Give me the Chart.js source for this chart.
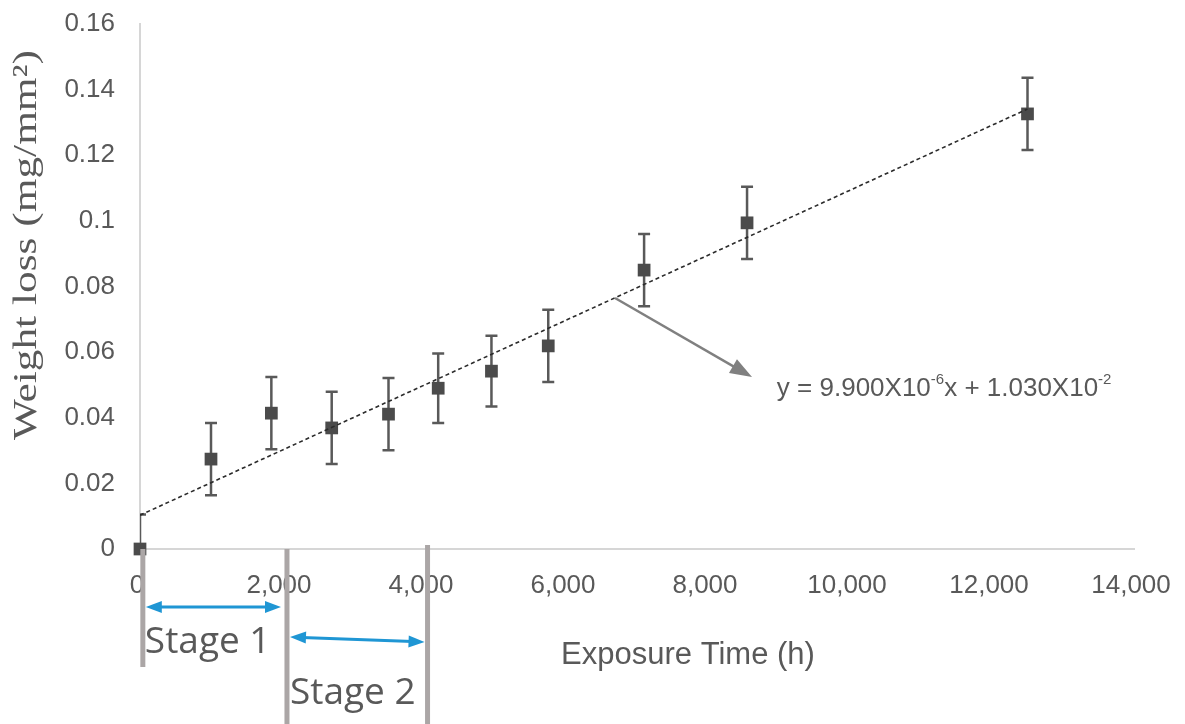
<!DOCTYPE html>
<html>
<head>
<meta charset="utf-8">
<script src="https://cdn.jsdelivr.net/npm/chart.js@4.4.1/dist/chart.umd.min.js"></script>
<style>
  html, body { margin: 0; padding: 0; background: #fff; }
  #wrap { width: 1185px; height: 724px; position: relative; }
</style>
</head>
<body>
<div id="wrap"><canvas id="chart"></canvas></div>
<script>
// exposure time (h) and weight loss (mg/mm2)
const hours = [0, 1000, 1850, 2700, 3500, 4200, 4950, 5750, 7100, 8550, 12500];
const weightLoss = [0, 0.0274, 0.0414, 0.0369, 0.0411, 0.049, 0.0542, 0.0619, 0.085, 0.0994, 0.1326];
const errorSize = [0.0105, 0.011, 0.011, 0.011, 0.011, 0.0106, 0.0108, 0.011, 0.011, 0.011, 0.011];

// linear fit drawn across the data range
const trendX = [0, 12500];
const trendY = [0.0103, 0.1341];

const xTicks = [0, 2000, 4000, 6000, 8000, 10000, 12000, 14000];
const yTicks = [0, 0.02, 0.04, 0.06, 0.08, 0.1, 0.12, 0.14, 0.16];

const stageBounds = [40, 2070, 4050];
const stageLabels = ['Stage 1', 'Stage 2'];

const xTitle = 'Exposure Time (h)';
const yTitle = 'Weight loss (mg/mm²)';

const grey = '#595959';
const blue = '#1f96d4';
const barGrey = '#aba6a6';
const sans = '"Liberation Sans", Arial, sans-serif';

function arrowHead(ctx, x1, y1, x2, y2, len, half) {
    let a = Math.atan2(y2 - y1, x2 - x1);
    ctx.beginPath();
    ctx.moveTo(x2, y2);
    ctx.lineTo(x2 - len * Math.cos(a) + half * Math.sin(a), y2 - len * Math.sin(a) - half * Math.cos(a));
    ctx.lineTo(x2 - len * Math.cos(a) - half * Math.sin(a), y2 - len * Math.sin(a) + half * Math.cos(a));
    ctx.closePath(); ctx.fill();
}

function doubleArrow(ctx, x1, y1, x2, y2) {
    let a = Math.atan2(y2 - y1, x2 - x1), l = 12;
    ctx.strokeStyle = blue; ctx.fillStyle = blue; ctx.lineWidth = 3;
    ctx.beginPath();
    ctx.moveTo(x1 + l * Math.cos(a), y1 + l * Math.sin(a));
    ctx.lineTo(x2 - l * Math.cos(a), y2 - l * Math.sin(a));
    ctx.stroke();
    arrowHead(ctx, x1, y1, x2, y2, 16, 6);
    arrowHead(ctx, x2, y2, x1, y1, 16, 6);
}

const overlay = {
    id: 'overlay',
    beforeDatasetsDraw(chart) {
        const ctx = chart.ctx, xs = chart.scales.x, ys = chart.scales.y, area = chart.chartArea;
        ctx.save();
        ctx.beginPath(); ctx.rect(area.left, area.top - 10, area.right - area.left, area.bottom - area.top + 10); ctx.clip();
        ctx.strokeStyle = grey; ctx.lineWidth = 2.5;
        hours.forEach((h, i) => {
            let px = xs.getPixelForValue(h), top = ys.getPixelForValue(weightLoss[i] + errorSize[i]), bot = ys.getPixelForValue(weightLoss[i] - errorSize[i]);
            ctx.beginPath();
            ctx.moveTo(px, top); ctx.lineTo(px, bot);
            ctx.moveTo(px - 6, top); ctx.lineTo(px + 6, top);
            ctx.moveTo(px - 6, bot); ctx.lineTo(px + 6, bot);
            ctx.stroke();
        });
        ctx.restore();
    },
    afterDraw(chart) {
        const ctx = chart.ctx, xs = chart.scales.x, ys = chart.scales.y, area = chart.chartArea;
        ctx.save();

        // axis titles
        ctx.fillStyle = grey; ctx.textAlign = 'center'; ctx.textBaseline = 'middle';
        ctx.font = '31px ' + sans;
        ctx.fillText(xTitle, 688, 655);
        ctx.save();
        ctx.translate(27, 245); ctx.rotate(-Math.PI / 2);
        ctx.font = '33px "Liberation Serif", "Times New Roman", serif';
        let w = ctx.measureText(yTitle).width;
        ctx.scale(390 / w, 1);
        ctx.fillText(yTitle, 0, 0);
        ctx.restore();

        // arrow to the fit equation
        let ax1 = xs.getPixelForValue(6690), ay1 = ys.getPixelForValue(0.0765);
        let ax2 = xs.getPixelForValue(8620), ay2 = ys.getPixelForValue(0.0524);
        let a = Math.atan2(ay2 - ay1, ax2 - ax1);
        ctx.strokeStyle = '#808080'; ctx.fillStyle = '#808080'; ctx.lineWidth = 2.5;
        ctx.beginPath(); ctx.moveTo(ax1, ay1); ctx.lineTo(ax2 - 10 * Math.cos(a), ay2 - 10 * Math.sin(a)); ctx.stroke();
        arrowHead(ctx, ax1, ay1, ax2, ay2, 22, 8);

        // equation with superscripts
        let ex = xs.getPixelForValue(8970), ey = ys.getPixelForValue(0.0488);
        let parts = [['y = 9.900X10', false], ['-6', true], ['x + 1.030X10', false], ['-2', true]];
        ctx.fillStyle = grey; ctx.textAlign = 'left'; ctx.textBaseline = 'middle';
        parts.forEach(p => {
            ctx.font = p[1] ? '15px ' + sans : '26px ' + sans;
            ctx.fillText(p[0], ex, p[1] ? ey - 9 : ey);
            ex += ctx.measureText(p[0]).width;
        });

        // stage markers below the axis
        let b = stageBounds.map(v => xs.getPixelForValue(v));
        ctx.fillStyle = barGrey;
        ctx.fillRect(b[0] - 2.5, area.bottom, 5, 118);
        ctx.fillRect(b[1] - 2.5, area.bottom, 5, 724 - area.bottom);
        ctx.fillRect(b[2] - 2.5, area.bottom - 4, 5, 728 - area.bottom);
        doubleArrow(ctx, b[0] + 3, 607, b[1] - 6, 607);
        doubleArrow(ctx, b[1] + 3, 637, b[2] - 3, 642);

        ctx.fillStyle = grey; ctx.textAlign = 'left'; ctx.textBaseline = 'middle';
        ctx.font = '37px "Open Sans", "Noto Sans", sans-serif';
        ctx.fillText(stageLabels[0], b[0] + 2, 642);
        ctx.fillText(stageLabels[1], b[1] + 3, 693);
        ctx.restore();
    }
};

new Chart(document.getElementById('chart'), {
    type: 'scatter',
    data: {
        datasets: [
            {
                label: 'Trend', type: 'line', order: 0,
                data: trendX.map((x, i) => ({ x: x, y: trendY[i] })),
                borderColor: '#2b2b2b', borderWidth: 1.6, borderDash: [4, 3], pointRadius: 0, fill: false
            },
            {
                label: 'Weight loss', order: 1, clip: false,
                data: hours.map((h, i) => ({ x: h, y: weightLoss[i] })),
                pointStyle: 'rect', pointRadius: 9, backgroundColor: '#4b4b4b', borderWidth: 0
            }
        ]
    },
    options: {
        responsive: true, maintainAspectRatio: false, animation: false, events: [],
        layout: { padding: { top: 24, right: 51, left: 0, bottom: 0 } },
        plugins: { legend: { display: false }, tooltip: { enabled: false } },
        scales: {
            x: {
                type: 'linear', min: 0, max: 14000,
                afterFit: s => { s.height = 175; s.paddingLeft = 0; s.paddingRight = 0; },
                afterBuildTicks: s => { s.ticks = xTicks.map(v => ({ value: v })); },
                grid: { display: false, drawTicks: false },
                border: { display: true, color: '#d6d6d6', width: 2 },
                ticks: { color: grey, font: { family: sans, size: 26 }, padding: 21, labelOffset: -3, maxRotation: 0,
                    callback: v => v.toLocaleString('en-US') }
            },
            y: {
                type: 'linear', min: 0, max: 0.16,
                afterFit: s => { s.width = 140; s.paddingTop = 0; s.paddingBottom = 0; },
                afterBuildTicks: s => { s.ticks = yTicks.map(v => ({ value: v })); },
                grid: { display: false, drawTicks: false },
                border: { display: true, color: '#d6d6d6', width: 2 },
                ticks: { color: grey, font: { family: sans, size: 26 }, padding: 25,
                    callback: v => String(parseFloat(v.toFixed(2))) }
            }
        }
    },
    plugins: [overlay]
});
</script>
</body>
</html>
